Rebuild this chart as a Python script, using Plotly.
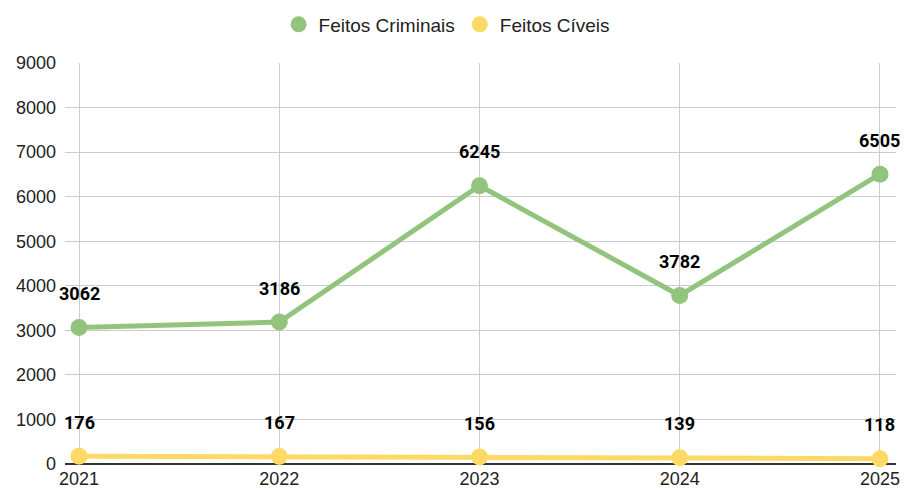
import plotly.graph_objects as go

years = ["2021", "2022", "2023", "2024", "2025"]
criminais = [3062, 3186, 6245, 3782, 6505]
civeis = [176, 167, 156, 139, 118]
y_ticks = [0, 1000, 2000, 3000, 4000, 5000, 6000, 7000, 8000, 9000]

green = "#93C47D"
yellow = "#FFD966"

fig = go.Figure()
for name, series, color in (("Feitos Criminais", criminais, green), ("Feitos Cíveis", civeis, yellow)):
    fig.add_trace(go.Scatter(x=years, y=series, name=name, mode="lines+markers",
                             line=dict(color=color, width=5), marker=dict(size=17, color=color),
                             showlegend=False, cliponaxis=False))
    fig.add_trace(go.Scatter(x=[None], y=[None], name=name, mode="markers",
                             marker=dict(size=17, color=color), showlegend=True))

annotations = []
for series in (criminais, civeis):
    for i, yv in enumerate(series):
        annotations.append(dict(x=i, y=yv, xref="x", yref="y", text="<b>" + str(yv) + "</b>",
                                showarrow=False, yshift=34,
                                font=dict(family="Roboto", size=18, color="#000000")))

fig.update_layout(
    width=905, height=490,
    margin=dict(l=65, r=9, t=63, b=26, autoexpand=False),
    plot_bgcolor="white", paper_bgcolor="white",
    font=dict(family="Liberation Sans, Arial", size=18, color="#222222"),
    legend=dict(orientation="h", x=0.494, xanchor="center", xref="container",
                y=0.95, yanchor="middle", yref="container",
                font=dict(size=19, color="#222222")),
    annotations=annotations,
)
fig.update_xaxes(type="category", range=[-0.07, 4.08], showgrid=True, gridcolor="#CCCCCC", gridwidth=1,
                 ticks="", tickfont=dict(size=18, color="#222222"), showline=False, zeroline=False,
                 automargin=False, ticklabelstandoff=2)
fig.update_yaxes(range=[0, 9000], tickvals=y_ticks, showgrid=True, gridcolor="#CCCCCC", gridwidth=1,
                 zeroline=True, zerolinecolor="#333333", zerolinewidth=2,
                 tickfont=dict(size=18, color="#222222"), ticks="", automargin=False,
                 ticklabelstandoff=8)

fig.write_html("out.html", config={"displayModeBar": False},
               post_script="document.body.style.margin='0';")
